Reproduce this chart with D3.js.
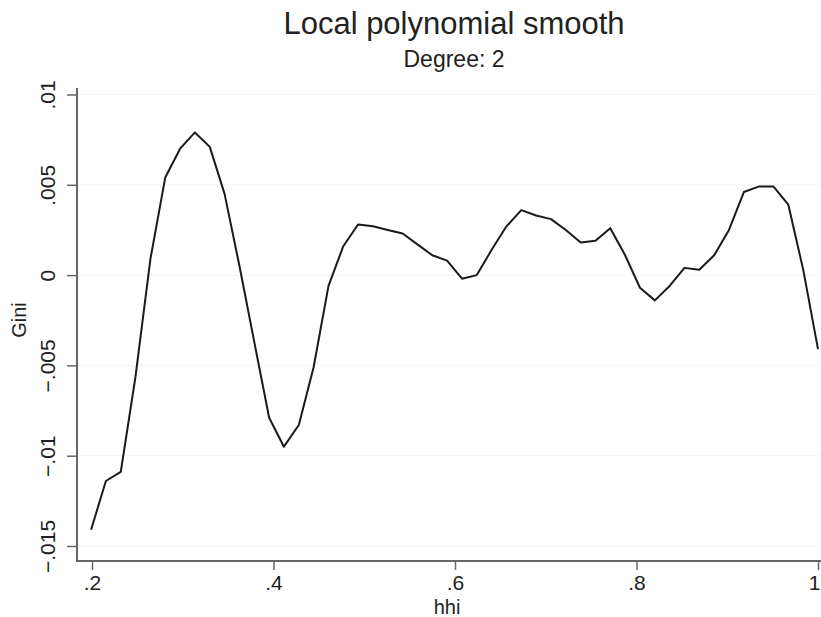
<!DOCTYPE html>
<html>
<head>
<meta charset="utf-8">
<script src="https://cdn.jsdelivr.net/npm/d3@7"></script>
<style>
  body { margin: 0; background: #fff; }
  text { font-family: "Liberation Sans", Arial, Helvetica, sans-serif; fill: #222; }
</style>
</head>
<body>
<div id="chart"></div>
<script>
// lpoly grid points (hhi) and smoothed Gini values
var hhi = [0.199, 0.2153, 0.2317, 0.2480, 0.2644, 0.2807, 0.2971, 0.3134, 0.3298, 0.3461,
           0.3625, 0.3788, 0.3952, 0.4115, 0.4279, 0.4442, 0.4606, 0.4769, 0.4932, 0.5096,
           0.5259, 0.5423, 0.5586, 0.5750, 0.5913, 0.6077, 0.6240, 0.6404, 0.6567, 0.6731,
           0.6894, 0.7058, 0.7221, 0.7385, 0.7548, 0.7711, 0.7875, 0.8038, 0.8202, 0.8365,
           0.8529, 0.8692, 0.8856, 0.9019, 0.9183, 0.9346, 0.9510, 0.9673, 0.9837, 1.0];
var gini = [-0.0141, -0.0114, -0.0109, -0.0056, 0.0009, 0.0054, 0.0070, 0.0079, 0.0071, 0.0045,
            0.0005, -0.0037, -0.0079, -0.0095, -0.0083, -0.0051, -0.0006, 0.0016, 0.0028, 0.0027,
            0.0025, 0.0023, 0.0017, 0.0011, 0.0008, -0.0002, 0.0000, 0.0014, 0.0027, 0.0036,
            0.0033, 0.0031, 0.0025, 0.0018, 0.0019, 0.0026, 0.0011, -0.0007, -0.0014, -0.0006,
            0.0004, 0.0003, 0.0011, 0.0025, 0.0046, 0.0049, 0.0049, 0.0039, 0.0003, -0.0041];

var xTicks = [0.2, 0.4, 0.6, 0.8, 1];
var xTickLabels = [".2", ".4", ".6", ".8", "1"];
var yTicks = [-0.015, -0.01, -0.005, 0, 0.005, 0.01];
var yTickLabels = ["\u2212.015", "\u2212.01", "\u2212.005", "0", ".005", ".01"];

var width = 821, height = 617;
var axisX = 77, axisY = 561;

var svg = d3.select("#chart").append("svg")
    .attr("width", width)
    .attr("height", height);

var x = d3.scaleLinear().domain([0.2, 1]).range([92, 818]);
var y = d3.scaleLinear().domain([-0.015, 0.01]).range([546, 94.5]);

// faint grid lines at y ticks
svg.append("g")
    .selectAll("line")
    .data(yTicks)
    .enter()
    .append("line")
    .attr("x1", axisX)
    .attr("x2", width)
    .attr("y1", function (d) { return y(d); })
    .attr("y2", function (d) { return y(d); })
    .attr("stroke", "#f4f4f4")
    .attr("stroke-width", 1);

// y axis
var yAxis = d3.axisLeft(y)
    .tickValues(yTicks)
    .tickSize(10)
    .tickPadding(12)
    .tickFormat(function (d, i) { return yTickLabels[i]; });

var gy = svg.append("g")
    .attr("transform", "translate(" + axisX + ",0)")
    .call(yAxis);
gy.select(".domain").remove();
gy.selectAll(".tick line").attr("stroke", "#666").attr("stroke-width", 1.5);
gy.selectAll(".tick text")
    .style("font-size", "21px")
    .attr("x", null).attr("dy", null)
    .attr("text-anchor", "middle")
    .attr("transform", "translate(-22,0) rotate(-90)");

gy.append("line")
    .attr("x1", 0).attr("x2", 0)
    .attr("y1", 88).attr("y2", axisY + 1)
    .attr("stroke", "#666")
    .attr("stroke-width", 2);

// x axis
var xAxis = d3.axisBottom(x)
    .tickValues(xTicks)
    .tickSize(9)
    .tickPadding(5)
    .tickFormat(function (d, i) { return xTickLabels[i]; });

var gx = svg.append("g")
    .attr("transform", "translate(0," + axisY + ")")
    .call(xAxis);
gx.select(".domain").remove();
gx.selectAll(".tick line").attr("stroke", "#666").attr("stroke-width", 1.5);
gx.selectAll(".tick text").style("font-size", "21px");
// last label sits on the right edge, keep it inside
gx.selectAll(".tick text")
    .filter(function (d) { return d === 1; })
    .attr("text-anchor", "end")
    .attr("x", 2);

gx.append("line")
    .attr("x1", axisX - 1).attr("x2", width)
    .attr("y1", 0).attr("y2", 0)
    .attr("stroke", "#666")
    .attr("stroke-width", 2);

// smoothed curve
var line = d3.line()
    .x(function (d) { return x(d[0]); })
    .y(function (d) { return y(d[1]); });

svg.append("path")
    .datum(d3.zip(hhi, gini))
    .attr("d", line)
    .attr("fill", "none")
    .attr("stroke", "#1a1a1a")
    .attr("stroke-width", 2)
    .attr("stroke-linejoin", "round");

// titles
svg.append("text")
    .attr("x", 454)
    .attr("y", 34)
    .attr("text-anchor", "middle")
    .style("font-size", "31px")
    .text("Local polynomial smooth");

svg.append("text")
    .attr("x", 454)
    .attr("y", 67)
    .attr("text-anchor", "middle")
    .style("font-size", "23px")
    .text("Degree: 2");

// axis titles
svg.append("text")
    .attr("x", 447)
    .attr("y", 614)
    .attr("text-anchor", "middle")
    .style("font-size", "20px")
    .text("hhi");

svg.append("text")
    .attr("transform", "translate(26,320) rotate(-90)")
    .attr("text-anchor", "middle")
    .style("font-size", "20px")
    .text("Gini");
</script>
</body>
</html>
